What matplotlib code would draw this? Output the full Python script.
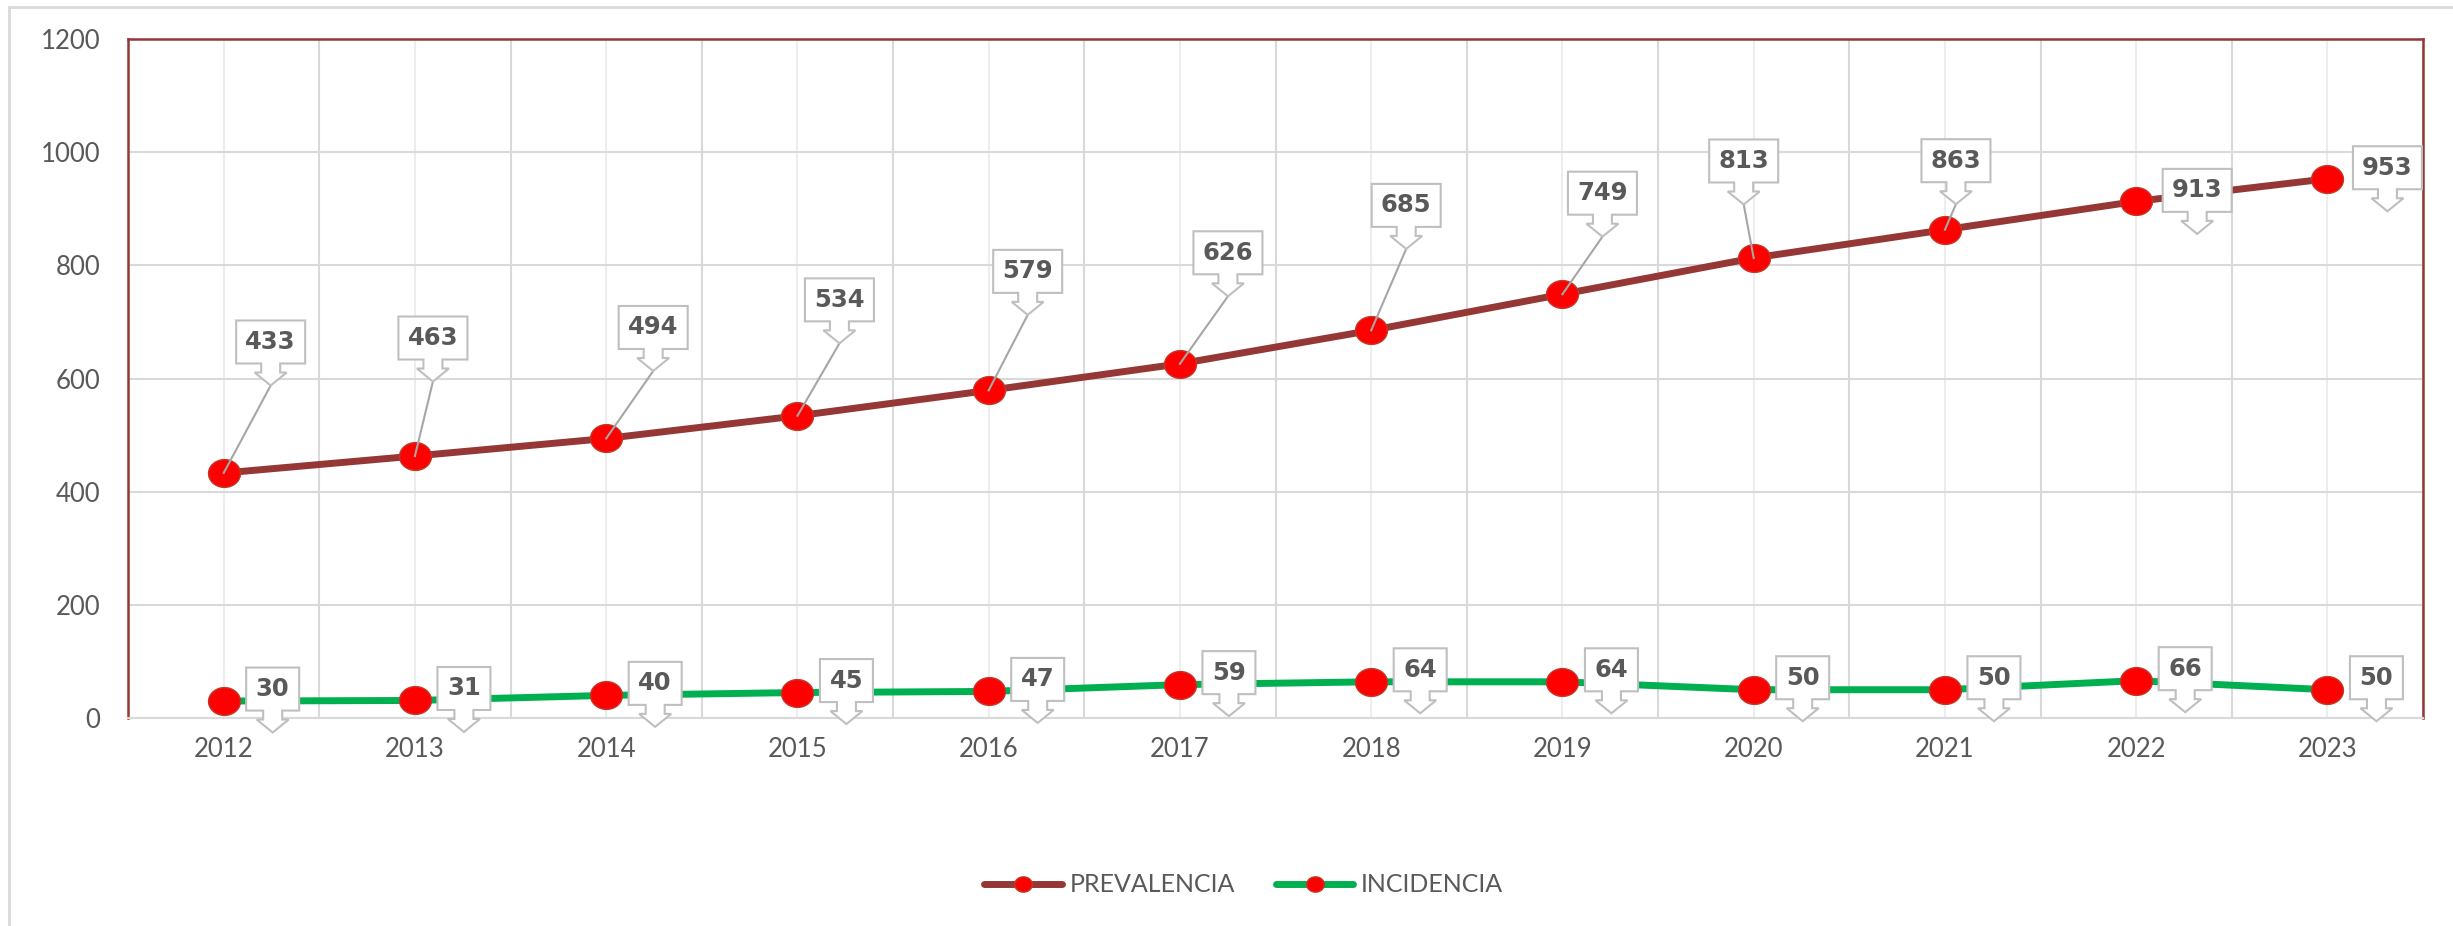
import numpy as np
import matplotlib
matplotlib.use("Agg")
import matplotlib.pyplot as plt
from matplotlib.path import Path
from matplotlib.patches import Polygon, Rectangle
from matplotlib.transforms import Affine2D, ScaledTranslation

# data
years = ['2012', '2013', '2014', '2015', '2016', '2017',
         '2018', '2019', '2020', '2021', '2022', '2023']
prevalencia = [433, 463, 494, 534, 579, 626, 685, 749, 813, 863, 913, 953]
incidencia = [30, 31, 40, 45, 47, 59, 64, 64, 50, 50, 66, 50]

# label box offsets from the point, in pixels (x right, y up)
prev_off = [(47, 131), (18, 118), (47, 111), (42, 116), (39, 119), (48, 111),
            (35, 125), (40, 101), (-10, 97), (11, 69), (61, 11), (60, 11)]
inc_off = (49, 12)

DARKRED = '#953735'
GREEN = '#00b050'
GRID = '#d9d9d9'
TEXT = '#595959'

plt.rcParams['font.family'] = ['Lato', 'DejaVu Sans']

fig = plt.figure(figsize=(24.53, 9.26), dpi=100)
ax = fig.add_axes([0.0522, 0.2246, 0.9356, 0.7333])

x = np.arange(len(years))

# ellipse marker, a bit wider than tall
t = np.linspace(0, 2 * np.pi, 61)
ell = Path(np.column_stack([np.cos(t), 0.87 * np.sin(t)]))

ax.plot(x, prevalencia, color=DARKRED, lw=5, marker=ell, ms=23,
        mfc='#ff0000', mec='#c0392b', mew=1, zorder=3, label='PREVALENCIA',
        solid_capstyle='round')
ax.plot(x, incidencia, color=GREEN, lw=5, marker=ell, ms=23,
        mfc='#ff0000', mec='#c0392b', mew=1, zorder=3, label='INCIDENCIA',
        solid_capstyle='round')

ax.set_xlim(-0.5, len(years) - 0.5)
ax.set_ylim(0, 1200)
ax.set_yticks(np.arange(0, 1201, 200))
ax.set_xticks(x)
ax.set_xticklabels(years)
ax.set_xticks(np.arange(-0.5, len(years), 1), minor=True)
ax.tick_params(axis='both', which='both', length=0, labelsize=18.5, labelcolor=TEXT)
ax.tick_params(axis='y', pad=20)
ax.tick_params(axis='x', pad=14)

ax.grid(axis='y', color=GRID, lw=1.5)
ax.grid(axis='x', which='major', color='#ededed', lw=1.5)
ax.grid(axis='x', which='minor', color=GRID, lw=1.5)
ax.set_axisbelow(True)

for s in ['left', 'top', 'right']:
    ax.spines[s].set_color(DARKRED)
    ax.spines[s].set_linewidth(1.8)
ax.spines['bottom'].set_color(GRID)
ax.spines['bottom'].set_linewidth(1.5)


def callout(xi, yi, txt, dx, dy, leader):
    # everything in pixel units around the data point
    tr = Affine2D().scale(fig.dpi / 100.0) + ScaledTranslation(xi, yi, ax.transData)
    w = 69 if len(txt) > 2 else 53
    h = 43
    sw, sl, hw, hl = 9.5, 9, 16, 13
    bot = dy - h / 2
    verts = [(dx - w / 2, dy + h / 2), (dx + w / 2, dy + h / 2),
             (dx + w / 2, bot), (dx + sw, bot), (dx + sw, bot - sl),
             (dx + hw, bot - sl), (dx, bot - sl - hl), (dx - hw, bot - sl),
             (dx - sw, bot - sl), (dx - sw, bot), (dx - w / 2, bot)]
    ax.add_patch(Polygon(verts, closed=True, transform=tr, fc='white',
                         ec='#bfbfbf', lw=1.5, zorder=5, clip_on=False))
    if leader:
        ax.plot([0, dx], [0, bot - sl - hl], transform=tr, color='#a6a6a6',
                lw=1.5, zorder=4, clip_on=False)
    ax.text(dx, dy, txt, transform=tr, ha='center', va='center',
            fontsize=17.5, fontweight='bold', color=TEXT,
            family='DejaVu Sans', zorder=6, clip_on=False)


for i, v in enumerate(prevalencia):
    dx, dy = prev_off[i]
    callout(i, v, str(v), dx, dy, dy > 50)
for i, v in enumerate(incidencia):
    callout(i, v, str(v), inc_off[0], inc_off[1], False)

ax.legend(loc='center', bbox_to_anchor=(0.507, 0.0443),
          bbox_transform=fig.transFigure, ncol=2, frameon=False,
          fontsize=18, labelcolor=TEXT, markerscale=0.55,
          handlelength=3.1, handletextpad=0.3, columnspacing=1.65)

# outer chart border
fig.add_artist(Rectangle((9 / 2453, -0.1), 1.1, 1.1 - 7 / 926,
                         transform=fig.transFigure, fill=False,
                         ec=GRID, lw=2))

fig.savefig('out.png', dpi=100)
